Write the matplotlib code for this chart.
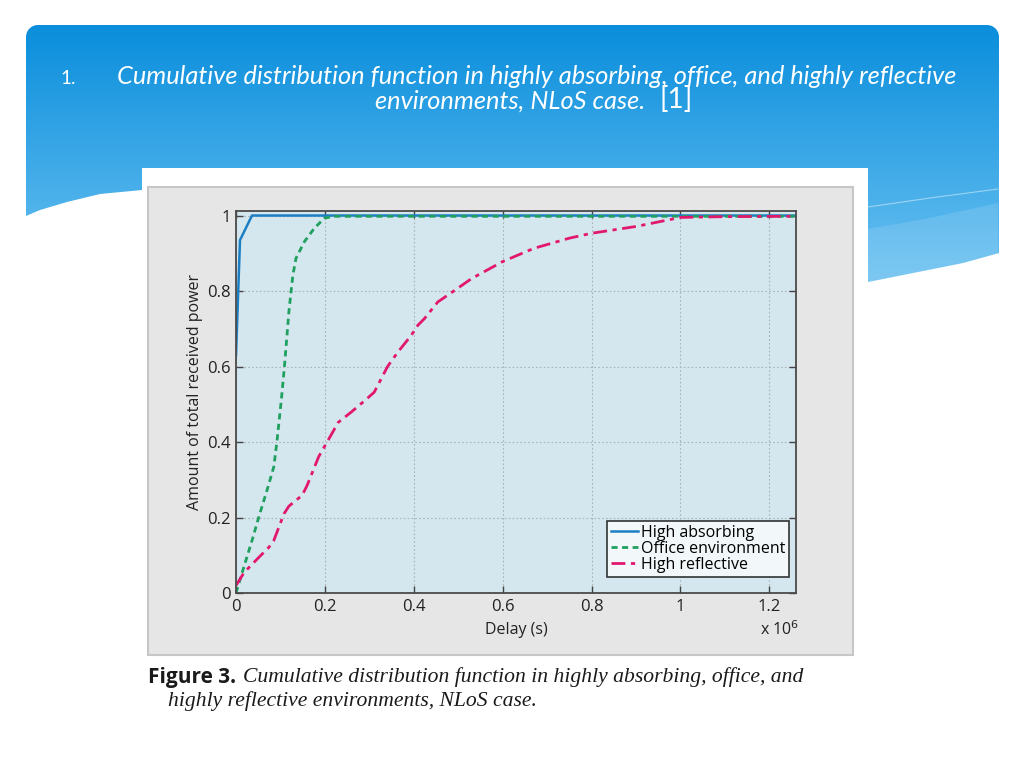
import numpy as np
import matplotlib
matplotlib.use("Agg")
import matplotlib.pyplot as plt
from matplotlib.patches import Rectangle, PathPatch, Polygon
from matplotlib.path import Path

# values (delay axis in units of 1e6 s)
absorb_x = [0.0, 0.009, 0.036, 1.26]
absorb_y = [0.63, 0.935, 1.0, 1.0]

office_x = [0.0, 0.018, 0.036, 0.051, 0.072, 0.085, 0.092, 0.102, 0.109,
            0.119, 0.124, 0.128, 0.135, 0.154, 0.176, 0.199, 0.221, 1.26]
office_y = [0.0, 0.07, 0.139, 0.2, 0.281, 0.334, 0.4, 0.512, 0.6,
            0.745, 0.8, 0.842, 0.887, 0.931, 0.966, 0.993, 0.998, 0.998]

reflect_x = [0.0, 0.018, 0.051, 0.074, 0.085, 0.108, 0.119, 0.149, 0.160,
             0.186, 0.205, 0.23, 0.26, 0.29, 0.311, 0.341, 0.364, 0.394,
             0.409, 0.424, 0.454, 0.49, 0.53, 0.60, 0.67, 0.75, 0.80, 0.90,
             1.0, 1.1, 1.26]
reflect_y = [0.02, 0.054, 0.094, 0.121, 0.139, 0.21, 0.23, 0.259, 0.285,
             0.361, 0.40, 0.452, 0.48, 0.51, 0.532, 0.60, 0.638, 0.682,
             0.709, 0.727, 0.771, 0.80, 0.833, 0.878, 0.913, 0.94, 0.953, 0.971,
             0.995, 0.997, 0.998]

series_labels = ["High absorbing", "Office environment", "High reflective"]
x_ticks = [0, 0.2, 0.4, 0.6, 0.8, 1.0, 1.2]
x_tick_labels = ["0", "0.2", "0.4", "0.6", "0.8", "1", "1.2"]
y_ticks = [0, 0.2, 0.4, 0.6, 0.8, 1.0]
y_tick_labels = ["0", "0.2", "0.4", "0.6", "0.8", "1"]

W, H = 1024, 768
fig = plt.figure(figsize=(W / 100, H / 100), dpi=100)
fig.patch.set_facecolor("white")

# slide background, pixel coordinates
bg = fig.add_axes([0, 0, 1, 1])
bg.set_xlim(0, W)
bg.set_ylim(H, 0)
bg.axis("off")

L, R, T, r = 26, 999, 25, 12
verts = []
for a in np.linspace(np.pi, 1.5 * np.pi, 12):
    verts.append((L + r + r * np.cos(a), T + r + r * np.sin(a)))
for a in np.linspace(1.5 * np.pi, 2 * np.pi, 12):
    verts.append((R - r + r * np.cos(a), T + r + r * np.sin(a)))
verts += [(R, 253), (963, 263), (913, 273), (868, 282), (868, 300),
          (142, 300), (142, 190), (100, 194), (67, 202), (40, 210), (L, 216)]
verts.append(verts[0])
codes = [Path.MOVETO] + [Path.LINETO] * (len(verts) - 2) + [Path.CLOSEPOLY]
header = PathPatch(Path(verts, codes), facecolor="none", edgecolor="none")
bg.add_patch(header)

t = np.linspace(0, 1, 256)[:, None, None]
c_top = np.array([10, 142, 220]) / 255
c_bot = np.array([110, 195, 242]) / 255
grad = c_top + (c_bot - c_top) * t
im = bg.imshow(grad, extent=(L, R, 290, T), aspect="auto", zorder=1,
               interpolation="bilinear")
im.set_clip_path(header)

bg.add_patch(Polygon([(868, 229), (930, 218), (998, 203), (998, 253),
                      (963, 263), (913, 273), (868, 282)],
                     closed=True, facecolor="white", alpha=0.12,
                     edgecolor="none", zorder=2))
bg.plot([868, 930, 998], [207, 198, 189], color="white", alpha=0.45, lw=0.8,
        zorder=2)

# slide title, sized so the first line spans the same width as the original
title_font = "Lato"
renderer = fig.canvas.get_renderer()
t1 = bg.text(537, 77, "Cumulative distribution function in highly absorbing, "
             "office, and highly reflective", color="white", fontsize=16,
             style="italic", family=title_font, ha="center", va="center",
             zorder=5)
w1 = t1.get_window_extent(renderer).width
tsize = 16 * 838 / w1
t1.set_fontsize(tsize)
bg.text(68, 79, "1.", color="white", fontsize=tsize * 0.75, family=title_font,
        ha="center", va="center", zorder=5)
bg.text(645, 101, "environments, NLoS case.", color="white", fontsize=tsize,
        style="italic", family=title_font, ha="right", va="center", zorder=5)
bg.text(660, 100, "[1]", color="white", fontsize=tsize * 1.1, family=title_font,
        ha="left", va="center", zorder=5)

# pasted figure image
bg.add_patch(Rectangle((142, 168), 726, 560, facecolor="white",
                       edgecolor="none", zorder=3))
bg.add_patch(Rectangle((148, 187), 705, 468, facecolor="#e6e6e6",
                       edgecolor="#c6c6c6", lw=1.5, zorder=4))

bg.text(148, 677, "Figure 3.", fontsize=15, weight="bold", family="Open Sans",
        color="#1a1a1a", ha="left", va="center", zorder=5)
bg.text(243, 677, "Cumulative distribution function in highly absorbing, "
        "office, and", fontsize=15.6, style="italic", family="Liberation Serif",
        color="#1a1a1a", ha="left", va="center", zorder=5)
bg.text(168, 701, "highly reflective environments, NLoS case.", fontsize=15.6,
        style="italic", family="Liberation Serif", color="#1a1a1a",
        ha="left", va="center", zorder=5)

# the plot itself
ax = fig.add_axes([236 / W, 1 - 593 / H, 560 / W, 382 / H], zorder=10)
ax.set_facecolor("#d4e6ee")
ax.plot(absorb_x, absorb_y, color="#1c7fc4", lw=1.8, label=series_labels[0])
ax.plot(office_x, office_y, color="#1fa05e", lw=2.0, ls=(0, (2.2, 1.6)),
        label=series_labels[1])
ax.plot(reflect_x, reflect_y, color="#e2186f", lw=2.0,
        ls=(0, (5, 2, 1.5, 2)), label=series_labels[2])

ax.set_xlim(0, 1.26)
ax.set_ylim(0, 1.012)
ax.set_xticks(x_ticks)
ax.set_xticklabels(x_tick_labels)
ax.set_yticks(y_ticks)
ax.set_yticklabels(y_tick_labels)
ax.tick_params(direction="in", length=5, width=1, color="#444444",
               top=True, right=True, labelsize=12, pad=4,
               labelcolor="#222222")
for lab in ax.get_xticklabels() + ax.get_yticklabels():
    lab.set_family("Open Sans")
for sp in ax.spines.values():
    sp.set_color("#4a4a4a")
    sp.set_linewidth(1.3)
ax.grid(True, ls=(0, (1.5, 2)), color="#a8b4b8", lw=0.8)
ax.set_axisbelow(True)

ax.text(0.5, -0.097, "Delay (s)", transform=ax.transAxes, fontsize=11.5,
        family="Open Sans", color="#222222", ha="center", va="center")
ax.text(0.97, -0.097, r"x 10$^{6}$", transform=ax.transAxes, fontsize=11.5,
        family="Open Sans", color="#222222", ha="center", va="center")
ax.text(-0.073, 0.526, "Amount of total received power",
        transform=ax.transAxes, fontsize=11.5, family="Open Sans",
        color="#222222", rotation=90, ha="center", va="center")

leg = ax.legend(loc="lower right", bbox_to_anchor=(0.9875, 0.042),
                prop={"family": "Open Sans", "size": 11.5}, fancybox=False,
                edgecolor="#333333", facecolor="#f2f8fa", framealpha=1,
                handlelength=1.7, handletextpad=0.15, labelspacing=0.0,
                borderpad=0.25, borderaxespad=0)
leg.get_frame().set_linewidth(1.2)

fig.savefig("out.png", dpi=100)
